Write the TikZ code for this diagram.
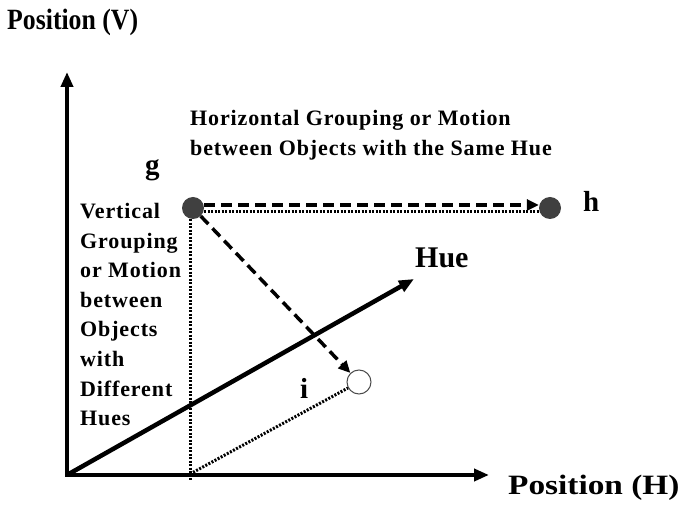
\documentclass[tikz,border=0pt]{standalone}
\usepackage{fontspec}
\setmainfont{Liberation Serif}
\newfontfamily\spacedfont[LetterSpace=4]{Liberation Serif}
\usetikzlibrary{arrows.meta}
\tikzset{bigtip/.tip={Triangle[length=15pt,width=12pt]}}
\begin{document}
\begin{tikzpicture}[x=1pt,y=-1pt,
 axisline/.style={line width=4.5pt, line join=miter},
 dashedarrow/.style={line width=3.5pt, dash pattern=on 11pt off 6pt, -{Triangle[length=12pt,width=11pt]}},
 dottedline/.style={line width=3pt, dash pattern=on 2pt off 1.5pt},
 filleddot/.style={circle, fill=black!75, minimum size=22pt, inner sep=0pt},
 opendot/.style={circle, draw=black!70, line width=1pt, fill=white, minimum size=24pt, inner sep=0pt},
 lbl/.style={font=\fontsize{29}{30}\selectfont\bfseries, inner sep=0pt},
 txt/.style={font=\fontsize{22}{29.6}\selectfont\spacedfont\bfseries, inner sep=0pt, align=left},
]
\useasboundingbox[fill=white] (0,0) rectangle (681,510);

\coordinate (O) at (67,475);
\coordinate (Vtop) at (67,72);
\coordinate (Htip) at (489,475);
\coordinate (HueTip) at (414,279);
\coordinate (gfoot) at (190,480);
\coordinate (gbase) at (190,474);

% axes
\draw[axisline, bigtip-bigtip] (Vtop) -- (O) -- (Htip);
\draw[axisline, -bigtip] (O) -- (HueTip);

% points
\node[filleddot] (g) at (193,208) {};
\node[filleddot] (h) at (550,208) {};
\node[opendot] (i) at (359,382) {};

% connectors
\draw[dottedline] ([yshift=-4pt]g.east) -- ([yshift=-4pt]h.west);
\draw[dashedarrow] ([yshift=3pt]g.east) -- ([yshift=3pt]h.west);
\draw[dottedline] (g.south -| gfoot) -- (gfoot);
\draw[dashedarrow] (g) -- (i);
\draw[dottedline] (gbase) -- (i);

% labels
\node[lbl, anchor=base west] (lg) at (145,175) {g};
\node[lbl, anchor=base west] (lh) at (583,212) {h};
\node[lbl, anchor=base west] (li) at (300,399) {i};
\node[font=\fontsize{30}{32}\selectfont\bfseries, inner sep=0pt, anchor=base west] (lhue) at (415,268) {Hue};

\node[font=\fontsize{28}{30}\selectfont\bfseries, inner sep=0pt, anchor=base west] (posv) at (7,30) {\scalebox{0.92}[1.05]{Position (V)}};
\node[font=\fontsize{28}{30}\selectfont\bfseries, inner sep=0pt, anchor=base west] (posh) at (508,495) {\scalebox{1.19}[1]{Position (H)}};

\node[txt, anchor=north west] (htext) at (190,110) {Horizontal Grouping or Motion\\between Objects with the Same Hue};
\node[txt, anchor=north west] (vtext) at (80,203) {Vertical\\Grouping\\or Motion\\between\\Objects\\with\\Different\\Hues};
\end{tikzpicture}
\end{document}
